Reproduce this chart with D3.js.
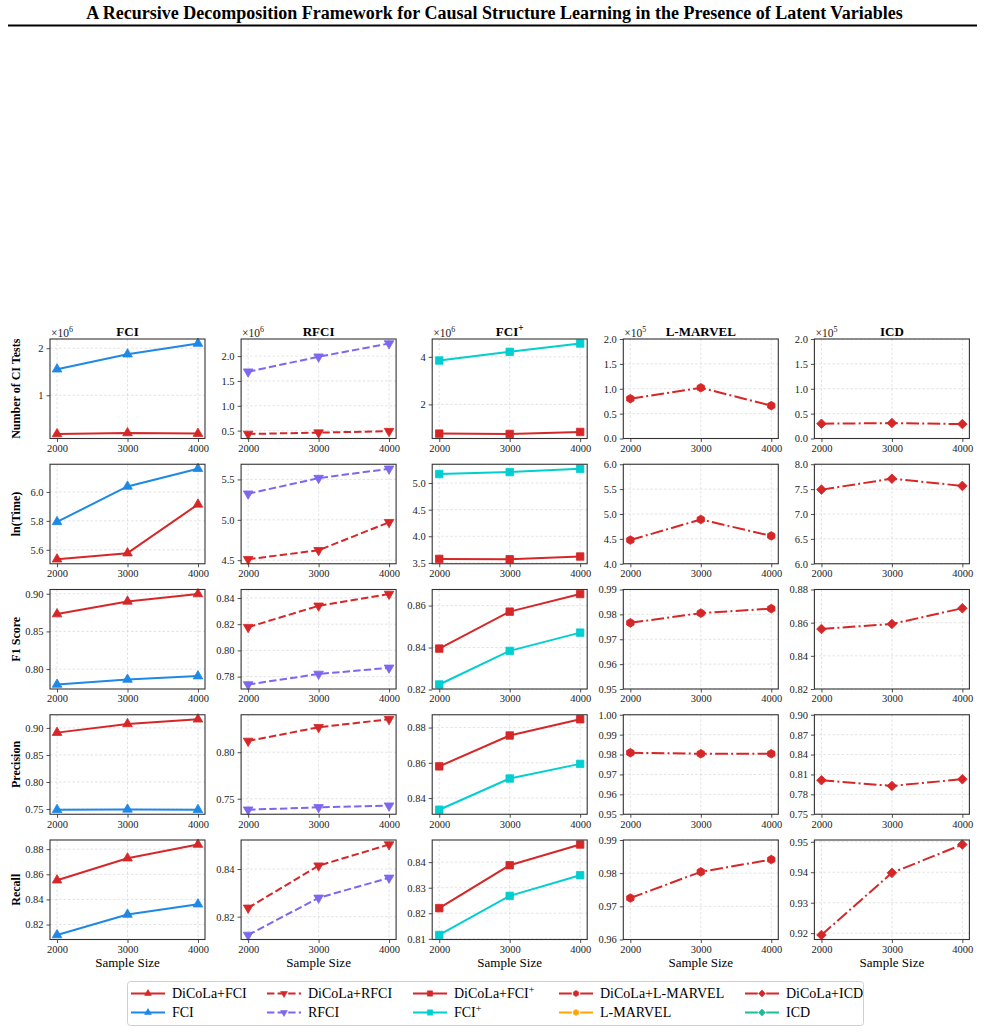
<!DOCTYPE html>
<html>
<head>
<meta charset="utf-8">
<script src="https://cdn.jsdelivr.net/npm/d3@7"></script>
<style>
  body { margin: 0; background: #fff; }
  text { font-family: "Liberation Serif", "Times New Roman", serif; }
</style>
</head>
<body>
<div id="chart"></div>
<script>
// sample sizes on the x axis
var sampleSizes = [2000, 3000, 4000];
var xTicks = [2000, 3000, 4000];

// columns = base algorithms, rows = metrics
var methods = ["FCI", "RFCI", "FCI+", "L-MARVEL", "ICD"];
var metrics = ["Number of CI Tests", "ln(Time)", "F1 Score", "Precision", "Recall"];

// number of CI tests, in units of 10^exp
var ciExponent = [6, 6, 6, 5, 5];
var ciDiCoLa = [[0.177, 0.198, 0.185], [0.433, 0.46, 0.49], [0.77, 0.755, 0.84], [0.80, 1.02, 0.66], [0.297, 0.31, 0.29]];
var ciBase = [[1.553, 1.872, 2.10], [1.686, 1.987, 2.253], [3.845, 4.21, 4.56], null, null];

// ln(time)
var timeDiCoLa = [[5.535, 5.577, 5.914], [4.512, 4.623, 4.97], [3.575, 3.569, 3.62], [4.476, 4.89, 4.56], [7.49, 7.71, 7.565]];
var timeBase = [[5.793, 6.038, 6.16], [5.323, 5.516, 5.632], [5.169, 5.206, 5.268], null, null];

// F1 score
var f1DiCoLa = [[0.873, 0.8898, 0.8996], [0.8177, 0.834, 0.843], [0.8395, 0.8571, 0.8655], [0.9766, 0.9805, 0.9823], [0.8562, 0.8592, 0.8687]];
var f1Base = [[0.7796, 0.7862, 0.7907], [0.774, 0.782, 0.7867], [0.8224, 0.8384, 0.8471], null, null];

// precision
var precDiCoLa = [[0.8913, 0.9074, 0.916], [0.8121, 0.8268, 0.8354], [0.858, 0.8755, 0.8847], [0.9809, 0.9804, 0.9804], [0.8013, 0.7927, 0.8028]];
var precBase = [[0.7487, 0.7493, 0.7487], [0.7382, 0.7408, 0.7425], [0.8334, 0.8511, 0.8594], null, null];

// recall
var recDiCoLa = [[0.8553, 0.8728, 0.8837], [0.8237, 0.8414, 0.8503], [0.822, 0.8388, 0.8469], [0.9725, 0.9804, 0.9841], [0.9194, 0.9398, 0.9491]];
var recBase = [[0.8117, 0.828, 0.8362], [0.8123, 0.8279, 0.8363], [0.8115, 0.8268, 0.8349], null, null];

// y tick values per panel [row][col]
var yTicks = [
  [[1, 2], [0.5, 1.0, 1.5, 2.0], [2, 4], [0, 0.5, 1.0, 1.5, 2.0], [0, 0.5, 1.0, 1.5, 2.0]],
  [[5.6, 5.8, 6.0], [4.5, 5.0, 5.5], [3.5, 4.0, 4.5, 5.0], [4.0, 4.5, 5.0, 5.5, 6.0], [6.0, 6.5, 7.0, 7.5, 8.0]],
  [[0.80, 0.85, 0.90], [0.78, 0.80, 0.82, 0.84], [0.82, 0.84, 0.86], [0.95, 0.96, 0.97, 0.98, 0.99], [0.82, 0.84, 0.86, 0.88]],
  [[0.75, 0.80, 0.85, 0.90], [0.75, 0.80], [0.84, 0.86, 0.88], [0.95, 0.96, 0.97, 0.98, 0.99, 1.00], [0.75, 0.78, 0.81, 0.84, 0.87, 0.90]],
  [[0.82, 0.84, 0.86, 0.88], [0.82, 0.84], [0.81, 0.82, 0.83, 0.84], [0.96, 0.97, 0.98, 0.99], [0.92, 0.93, 0.94, 0.95]]
];
var yFormats = [["d", ".1f", "d", ".1f", ".1f"], [".1f", ".1f", ".1f", ".1f", ".1f"], [".2f", ".2f", ".2f", ".2f", ".2f"], [".2f", ".2f", ".2f", ".2f", ".2f"], [".2f", ".2f", ".2f", ".2f", ".2f"]];
// fixed y limits (null = autoscale with 5% margin)
var yLimits = [
  [null, null, null, [0, 2], [0, 2]],
  [null, null, null, [4, 6], [6, 8]],
  [null, null, null, [0.95, 0.99], [0.82, 0.88]],
  [null, null, null, [0.95, 1.0], [0.75, 0.90]],
  [null, null, null, [0.96, 0.99], null]
];

var dicolaRows = [ciDiCoLa, timeDiCoLa, f1DiCoLa, precDiCoLa, recDiCoLa];
var baseRows = [ciBase, timeBase, f1Base, precBase, recBase];

// styles
var red = "#d62728";
var methodColor = {"FCI": "#1e88e5", "RFCI": "#7b68ee", "FCI+": "#00ced1", "L-MARVEL": "#ffa500", "ICD": "#1abc9c"};
var methodDash = {"FCI": null, "RFCI": "7.4,3.2", "FCI+": null, "L-MARVEL": "12.8,3.2,2,3.2", "ICD": "12.8,3.2,2,3.2"};

var symbolHexagon = {
  draw: function (ctx, size) {
    var r = Math.sqrt(size / 2.598);
    for (var i = 0; i < 6; i++) {
      var a = Math.PI / 2 + i * Math.PI / 3;
      if (i) ctx.lineTo(r * Math.cos(a), -r * Math.sin(a)); else ctx.moveTo(r * Math.cos(a), -r * Math.sin(a));
    }
    ctx.closePath();
  }
};
// symbol type, rotation, size in panels
var methodMarker = {
  "FCI": [d3.symbolTriangle, 0, 40],
  "RFCI": [d3.symbolTriangle, 180, 40],
  "FCI+": [d3.symbolSquare, 0, 56],
  "L-MARVEL": [symbolHexagon, 0, 48],
  "ICD": [d3.symbolSquare, 45, 46]
};

var W = 985, H = 1032;
var pw = 155, ph = 99.5;
function colLeft(c) { return 50 + c * 191.1; }
function rowTop(r) { return 339 + r * 125.25; }

var svg = d3.select("#chart").append("svg").attr("width", W).attr("height", H);

// title
svg.append("text").attr("x", W / 2 + 2).attr("y", 19).attr("text-anchor", "middle")
  .attr("font-size", 18).attr("font-weight", "bold").attr("fill", "#000")
  .text("A Recursive Decomposition Framework for Causal Structure Learning in the Presence of Latent Variables");
svg.append("line").attr("x1", 8).attr("x2", 977).attr("y1", 25.5).attr("y2", 25.5)
  .attr("stroke", "#000").attr("stroke-width", 2);

// text with trailing "+" raised
function supText(sel, label) {
  if (label.slice(-1) === "+") {
    sel.append("tspan").text(label.slice(0, -1));
    sel.append("tspan").attr("dy", -5).attr("font-size", "0.72em").text("+");
  } else {
    sel.text(label);
  }
}

var x = d3.scaleLinear().domain([1900, 4100]).range([0, pw]);

function drawSeries(g, y, vals, color, dash, marker) {
  var line = d3.line().x(function (d, i) { return x(sampleSizes[i]); }).y(function (d) { return y(d); });
  g.append("path").attr("d", line(vals)).attr("fill", "none")
    .attr("stroke", color).attr("stroke-width", 2)
    .attr("stroke-dasharray", dash)
    .attr("stroke-linejoin", "round");
  var sym = d3.symbol().type(marker[0]).size(marker[2]);
  g.selectAll(null).data(vals).enter().append("path")
    .attr("d", sym)
    .attr("transform", function (d, i) { return "translate(" + x(sampleSizes[i]) + "," + y(d) + ") rotate(" + marker[1] + ")"; })
    .attr("fill", color).attr("stroke", color).attr("stroke-width", 0.8);
}

metrics.forEach(function (metric, r) {
  methods.forEach(function (m, c) {
    var g = svg.append("g").attr("transform", "translate(" + colLeft(c) + "," + rowTop(r) + ")");
    var dic = dicolaRows[r][c], base = baseRows[r][c];
    var dom = yLimits[r][c];
    if (!dom) {
      var ext = d3.extent(dic.concat(base || []));
      var pad = (ext[1] - ext[0]) * 0.05;
      dom = [ext[0] - pad, ext[1] + pad];
    }
    var y = d3.scaleLinear().domain(dom).range([ph, 0]);

    // grid
    g.selectAll(".vg").data(xTicks).enter().append("line")
      .attr("x1", x).attr("x2", x).attr("y1", 0).attr("y2", ph)
      .attr("stroke", "#d0d0d0").attr("stroke-width", 0.6).attr("stroke-dasharray", "2.5,2");
    g.selectAll(".hg").data(yTicks[r][c]).enter().append("line")
      .attr("x1", 0).attr("x2", pw).attr("y1", y).attr("y2", y)
      .attr("stroke", "#d0d0d0").attr("stroke-width", 0.6).attr("stroke-dasharray", "2.5,2");

    // axes
    var xa = g.append("g").attr("transform", "translate(0," + ph + ")")
      .call(d3.axisBottom(x).tickValues(xTicks).tickFormat(d3.format("d")).tickSizeInner(3.5).tickSizeOuter(0).tickPadding(2.5));
    var ya = g.append("g")
      .call(d3.axisLeft(y).tickValues(yTicks[r][c]).tickFormat(d3.format(yFormats[r][c])).tickSizeInner(3.5).tickSizeOuter(0).tickPadding(3));
    [xa, ya].forEach(function (a) {
      a.select(".domain").remove();
      a.selectAll("text").attr("font-size", 10.5).attr("fill", "#222").style("font-family", "'Liberation Serif', serif");
      a.selectAll("line").attr("stroke", "#222").attr("stroke-width", 0.8);
    });

    // series
    if (base) drawSeries(g, y, base, methodColor[m], methodDash[m], methodMarker[m]);
    drawSeries(g, y, dic, red, methodDash[m], methodMarker[m]);

    // frame
    g.append("rect").attr("width", pw).attr("height", ph).attr("fill", "none")
      .attr("stroke", "#333").attr("stroke-width", 1.1);

    if (r === 0) {
      var t = g.append("text").attr("x", pw / 2).attr("y", -3.5).attr("text-anchor", "middle")
        .attr("font-size", 13).attr("font-weight", "bold");
      supText(t, m);
      var o = g.append("text").attr("x", 1).attr("y", -2.5).attr("font-size", 11.5).attr("fill", "#222");
      o.append("tspan").text("\u00d710");
      o.append("tspan").attr("dy", -5).attr("font-size", 8).text(ciExponent[c]);
    }
    if (r === metrics.length - 1) {
      g.append("text").attr("x", pw / 2).attr("y", ph + 27).attr("text-anchor", "middle")
        .attr("font-size", 13).text("Sample Size");
    }
    if (c === 0) {
      g.append("text").attr("transform", "translate(" + (16 - colLeft(0)) + "," + (ph / 2) + ") rotate(-90)")
        .attr("text-anchor", "middle").attr("dy", "0.35em")
        .attr("font-size", 12).attr("font-weight", "bold").text(metric);
    }
  });
});

// legend
var leg = svg.append("g");
leg.append("rect").attr("x", 127.5).attr("y", 981.5).attr("width", 736).attr("height", 44).attr("rx", 3)
  .attr("fill", "#fff").attr("stroke", "#cfcfcf").attr("stroke-width", 1);
var legX = [131, 267, 413, 559, 745];
var legY = [993.5, 1012.5];
methods.forEach(function (m, c) {
  [["DiCoLa+" + m, red], [m, methodColor[m]]].forEach(function (e, k) {
    var hx = legX[c], hy = legY[k];
    leg.append("line").attr("x1", hx).attr("x2", hx + 34).attr("y1", hy).attr("y2", hy)
      .attr("stroke", e[1]).attr("stroke-width", 2).attr("stroke-dasharray", methodDash[m]);
    var mk = methodMarker[m];
    leg.append("path").attr("d", d3.symbol().type(mk[0]).size(mk[2] * 0.5))
      .attr("transform", "translate(" + (hx + 17) + "," + hy + ") rotate(" + mk[1] + ")")
      .attr("fill", e[1]).attr("stroke", e[1]).attr("stroke-width", 0.6);
    var t = leg.append("text").attr("x", hx + 41).attr("y", hy).attr("dy", "0.35em").attr("font-size", 14);
    supText(t, e[0]);
  });
});
</script>
</body>
</html>
